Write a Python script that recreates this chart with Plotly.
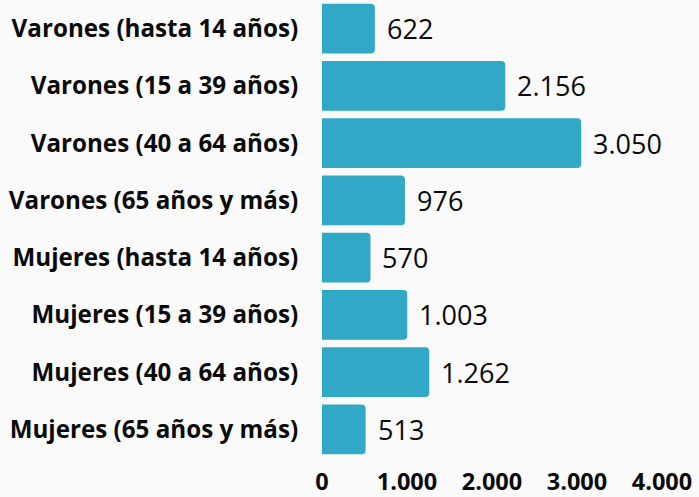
import plotly.graph_objects as go

categories = [
    "Varones (hasta 14 años)",
    "Varones (15 a 39 años)",
    "Varones (40 a 64 años)",
    "Varones (65 años y más)",
    "Mujeres (hasta 14 años)",
    "Mujeres (15 a 39 años)",
    "Mujeres (40 a 64 años)",
    "Mujeres (65 años y más)",
]
values = [622, 2156, 3050, 976, 570, 1003, 1262, 513]
tick_values = [0, 1000, 2000, 3000, 4000]
tick_labels = ["0", "1.000", "2.000", "3.000", "4.000"]

BAR_COLOR = "#31a8c6"
BG = "#fafafa"
FONT = "Open Sans"
TXT = "#0a0a0a"


def fmt(v):
    return f"{v:,}".replace(",", ".")


fig = go.Figure(
    go.Bar(
        x=values,
        y=categories,
        orientation="h",
        marker=dict(color=BAR_COLOR, line=dict(width=0)),
        hoverinfo="skip",
    )
)

for c, v in zip(categories, values):
    fig.add_annotation(
        x=v, y=c, text=fmt(v), showarrow=False,
        xanchor="left", yanchor="middle", xshift=10,
        font=dict(family=FONT, size=27, color=TXT),
    )

fig.update_layout(
    width=699, height=497,
    margin=dict(l=322, r=37, t=0, b=39),
    paper_bgcolor=BG, plot_bgcolor=BG,
    bargap=0.13,
    barcornerradius=4,
    showlegend=False,
    font=dict(family=FONT, color=TXT),
)
fig.update_xaxes(
    range=[0, 4000], tickvals=tick_values, ticktext=tick_labels,
    showgrid=False, zeroline=False, showline=False, automargin=False,
    tickfont=dict(family=FONT, size=23.5, color=TXT, weight="bold"),
    ticks="outside", ticklen=3, tickcolor="rgba(0,0,0,0)",
)
fig.update_yaxes(
    categoryorder="array", categoryarray=categories, autorange="reversed",
    showgrid=False, zeroline=False, showline=False, automargin=False,
    tickfont=dict(family=FONT, size=24.2, color=TXT, weight="bold"),
    ticks="outside", ticklen=18, tickcolor="rgba(0,0,0,0)",
)

fig.write_html(
    "out.html",
    config={"displayModeBar": False},
    post_script="document.body.style.margin='0';document.body.style.background='#ffffff';",
)
